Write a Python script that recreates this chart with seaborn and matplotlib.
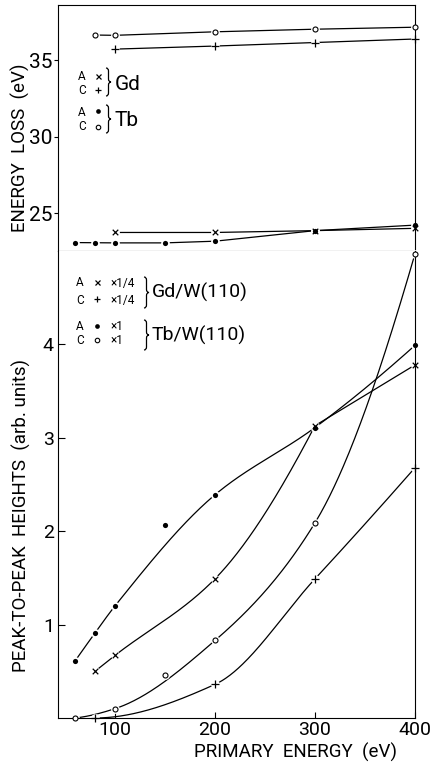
import numpy as np
import matplotlib
matplotlib.use("Agg")
import matplotlib.pyplot as plt
from matplotlib.path import Path
from matplotlib.patches import PathPatch
import seaborn as sns

# ---- energy-loss peak positions (eV) against primary energy (eV) ----
loss_tb_a_energy = [60, 80, 100, 150, 200, 300, 400]
loss_tb_a = [23.09, 23.08, 23.07, 23.07, 23.18, 23.87, 24.23]
loss_tb_c_energy = [80, 100, 200, 300, 400]
loss_tb_c = [36.64, 36.62, 36.85, 37.02, 37.15]
loss_gd_a_energy = [100, 200, 300, 400]
loss_gd_a = [23.75, 23.75, 23.87, 24.02]
loss_gd_c_energy = [100, 200, 300, 400]
loss_gd_c = [35.72, 35.92, 36.15, 36.38]

# ---- peak-to-peak heights (arb. units); Gd values already scaled by 1/4 ----
pp_tb_a_energy = [60, 80, 100, 150, 200, 300, 400]
pp_tb_a = [0.61, 0.91, 1.20, 2.07, 2.39, 3.11, 3.99]
pp_gd_a_energy = [80, 100, 200, 300, 400]
pp_gd_a = [0.50, 0.67, 1.49, 3.13, 3.78]
pp_tb_c_energy = [60, 100, 150, 200, 300, 400]
pp_tb_c = [0.0, 0.10, 0.46, 0.83, 2.09, 4.97]
pp_gd_c_energy = [80, 200, 300, 400]
pp_gd_c = [0.0, 0.36, 1.49, 2.68]
# scattered points that the smooth guide curves do not pass through
pp_tb_a_off_curve = [150]
pp_tb_c_off_curve = [150]
# energies at which a guide curve turns a corner
pp_gd_a_corner = [300]

loss_ticks = [25, 30, 35]
pp_ticks = [1, 2, 3, 4]
energy_ticks = [100, 200, 300, 400]

W, H = 431, 763

sns.set_theme(style="ticks")
plt.rcParams["font.family"] = ["Roboto", "DejaVu Sans"]
plt.rcParams["axes.linewidth"] = 0.8
plt.rcParams["text.color"] = "black"

fig = plt.figure(figsize=(W / 100, H / 100), dpi=100)
fig.patch.set_facecolor("white")


def px(x, y):
    """pixel position (from top-left) -> figure fraction"""
    return x / W, 1 - y / H


def box(left, top, right, bottom):
    return [left / W, 1 - bottom / H, (right - left) / W, (bottom - top) / H]


ax_top = fig.add_axes(box(58, 5, 415, 251))
ax_bot = fig.add_axes(box(58, 251, 415, 718))
for ax in (ax_top, ax_bot):
    ax.set_facecolor("white")
    for s in ax.spines.values():
        s.set_color("black")
        s.set_linewidth(0.8)
ax_bot.spines["top"].set_visible(False)


def pchip(x, y, xs):
    """monotone cubic Hermite curve through (x, y), evaluated at xs"""
    x = np.asarray(x, float)
    y = np.asarray(y, float)
    h = np.diff(x)
    delta = np.diff(y) / h
    n = len(x)
    if n == 2:
        return y[0] + delta[0] * (xs - x[0])
    d = np.zeros(n)
    for k in range(1, n - 1):
        if delta[k - 1] * delta[k] > 0:
            w1 = 2 * h[k] + h[k - 1]
            w2 = h[k] + 2 * h[k - 1]
            d[k] = (w1 + w2) / (w1 / delta[k - 1] + w2 / delta[k])

    def end(h0, h1, d0, d1):
        s = ((2 * h0 + h1) * d0 - h0 * d1) / (h0 + h1)
        if np.sign(s) != np.sign(d0):
            return 0.0
        if np.sign(d0) != np.sign(d1) and abs(s) > abs(3 * d0):
            return 3 * d0
        return s

    d[0] = end(h[0], h[1], delta[0], delta[1])
    d[-1] = end(h[-1], h[-2], delta[-1], delta[-2])
    idx = np.clip(np.searchsorted(x, xs) - 1, 0, n - 2)
    t = (xs - x[idx]) / h[idx]
    h00 = 2 * t**3 - 3 * t**2 + 1
    h10 = t**3 - 2 * t**2 + t
    h01 = -2 * t**3 + 3 * t**2
    h11 = t**3 - t**2
    return (h00 * y[idx] + h10 * h[idx] * d[idx]
            + h01 * y[idx + 1] + h11 * h[idx] * d[idx + 1])


MARK = {
    "x": dict(marker="x", s=16, color="black", linewidth=0.9),
    "+": dict(marker="+", s=30, color="black", linewidth=0.9),
    "dot": dict(marker="o", s=14, color="black", linewidth=0),
    "ring": dict(marker="o", s=13, color="white", edgecolor="black", linewidth=0.8),
}


def marks(ax, x, y, kind, halo=True):
    if halo:
        sns.scatterplot(x=x, y=y, ax=ax, marker="o", s=40, color="white",
                        linewidth=0, zorder=2.2, clip_on=False, legend=False)
    sns.scatterplot(x=x, y=y, ax=ax, zorder=3, clip_on=False, legend=False,
                    **MARK[kind])


def line(ax, x, y):
    sns.lineplot(x=x, y=y, ax=ax, color="black", linewidth=0.9, sort=False,
                 estimator=None, zorder=2, legend=False)


# ---- upper panel: straight segments joining the measured loss energies ----
for xe, ye, kind in [
    (loss_tb_c_energy, loss_tb_c, "ring"),
    (loss_gd_c_energy, loss_gd_c, "+"),
    (loss_gd_a_energy, loss_gd_a, "x"),
    (loss_tb_a_energy, loss_tb_a, "dot"),
]:
    line(ax_top, xe, ye)
    marks(ax_top, xe, ye, kind)

# ---- lower panel: smooth guide curves through the peak heights ----
for xe, ye, kind, skip, corners in [
    (pp_tb_a_energy, pp_tb_a, "dot", pp_tb_a_off_curve, []),
    (pp_gd_a_energy, pp_gd_a, "x", [], pp_gd_a_corner),
    (pp_tb_c_energy, pp_tb_c, "ring", pp_tb_c_off_curve, []),
    (pp_gd_c_energy, pp_gd_c, "+", [], []),
]:
    kx = [a for a in xe if a not in skip]
    ky = [b for a, b in zip(xe, ye) if a not in skip]
    cuts = [kx[0]] + list(corners) + [kx[-1]]
    for lo, hi in zip(cuts[:-1], cuts[1:]):
        sx = [a for a in kx if lo <= a <= hi]
        sy = [b for a, b in zip(kx, ky) if lo <= a <= hi]
        xs = np.linspace(sx[0], sx[-1], 300)
        line(ax_bot, xs, pchip(sx, sy, xs))
    marks(ax_bot, xe, ye, kind)

# ---- axes limits and ticks ----
ax_top.set_xlim(43, 400)
ax_top.set_ylim(22.54, 38.6)
ax_top.set_xticks([])
ax_top.set_yticks(loss_ticks)
ax_top.set_yticklabels([str(t) for t in loss_ticks])
ax_top.tick_params(axis="y", direction="out", length=3, width=0.8, pad=1,
                   labelsize=15, colors="black")

ax_bot.set_xlim(43, 400)
ax_bot.set_ylim(0, 5.0)
ax_bot.set_yticks(pp_ticks)
ax_bot.set_yticklabels([str(t) for t in pp_ticks])
ax_bot.set_xticks(energy_ticks)
ax_bot.set_xticklabels([str(t) for t in energy_ticks])
ax_bot.tick_params(axis="y", direction="in", length=5, width=0.8, pad=3,
                   labelsize=14, colors="black")
ax_bot.tick_params(axis="x", direction="in", length=4, width=0.8, pad=2,
                   labelsize=14, colors="black")
for ax in (ax_top, ax_bot):
    ax.set_xlabel("")
    ax.set_ylabel("")

# ---- axis titles ----
fig.text(*px(20, 148), "ENERGY  LOSS  (eV)", rotation=90, ha="center",
         va="center", fontsize=13.5)
fig.text(*px(21, 516), "PEAK-TO-PEAK  HEIGHTS  (arb. units)", rotation=90,
         ha="center", va="center", fontsize=13.5)
fig.text(*px(296, 752), "PRIMARY  ENERGY  (eV)", ha="center", va="center",
         fontsize=13.5)


# ---- key blocks ----
def brace(x0, top, bottom, w=5, r=3):
    ym = (top + bottom) / 2
    xm = x0 + w / 2
    pts = [(x0, top), (xm, top), (xm, top + r), (xm, ym - r), (xm, ym),
           (x0 + w, ym), (xm, ym), (xm, ym + r), (xm, bottom - r),
           (xm, bottom), (x0, bottom)]
    codes = [Path.MOVETO, Path.CURVE3, Path.CURVE3, Path.LINETO, Path.CURVE3,
             Path.CURVE3, Path.CURVE3, Path.CURVE3, Path.LINETO, Path.CURVE3,
             Path.CURVE3]
    path = Path([px(*p) for p in pts], codes)
    fig.add_artist(PathPatch(path, transform=fig.transFigure, fill=False,
                             edgecolor="black", linewidth=0.9))


def key_mark(x, y, kind):
    fx, fy = px(x, y)
    st = MARK[kind]
    fig.add_artist(plt.Line2D(
        [fx], [fy], transform=fig.transFigure, linestyle="none",
        marker=st["marker"], markersize=np.sqrt(st["s"]) * 0.9,
        markerfacecolor="black" if kind in ("x", "+") else st["color"],
        markeredgecolor=st.get("edgecolor", "black"),
        markeredgewidth=max(st["linewidth"], 0.01)))


def small(x, y, s, ha="center", size=8.5):
    fig.text(*px(x, y), s, ha=ha, va="center", fontsize=size)


# upper key
small(82, 77, "A")
small(82, 90, "C")
key_mark(98, 76, "x")
key_mark(98, 90, "+")
brace(106, 68, 96)
fig.text(*px(115, 84), "Gd", ha="left", va="center", fontsize=15)
small(82, 112, "A")
small(82, 127, "C")
key_mark(98, 111, "dot")
key_mark(98, 127, "ring")
brace(106, 105, 133)
fig.text(*px(115, 121), "Tb", ha="left", va="center", fontsize=15)

# lower key
small(80, 283, "A")
small(80, 300, "C")
key_mark(97, 282, "x")
key_mark(97, 299, "+")
small(110, 283, "×1/4", ha="left")
small(110, 300, "×1/4", ha="left")
brace(144, 277, 308)
fig.text(*px(152, 292), "Gd/W(110)", ha="left", va="center", fontsize=14)
small(80, 327, "A")
small(80, 341, "C")
key_mark(97, 326, "dot")
key_mark(97, 340, "ring")
small(110, 327, "×1", ha="left")
small(110, 341, "×1", ha="left")
brace(144, 320, 350)
fig.text(*px(152, 335), "Tb/W(110)", ha="left", va="center", fontsize=14)

fig.savefig("out.png", dpi=100, facecolor="white")
